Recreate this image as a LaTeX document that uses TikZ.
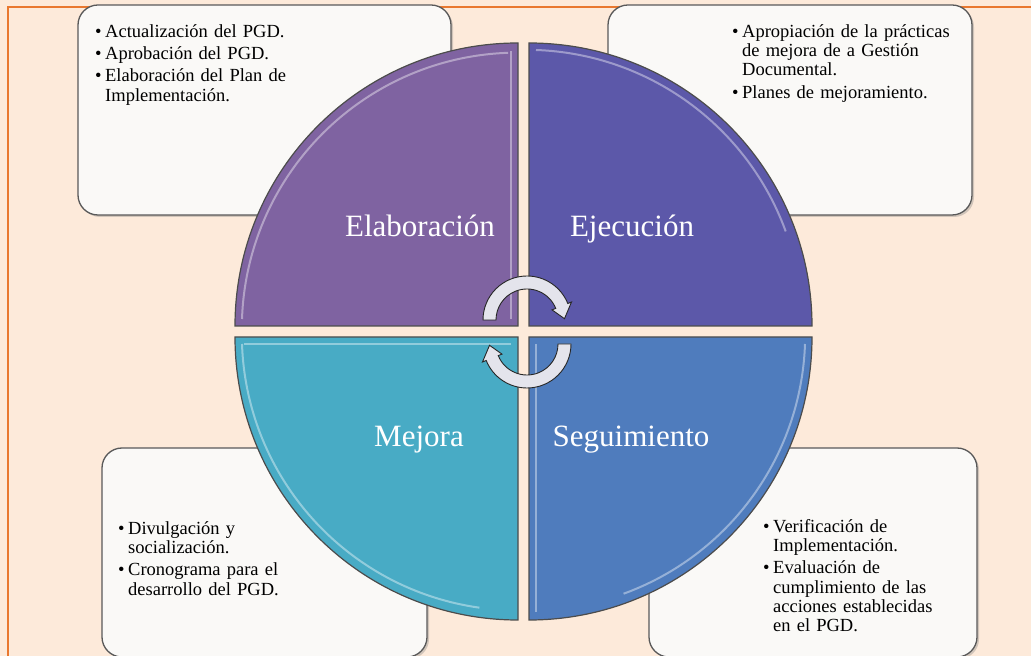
\documentclass[tikz,border=0pt]{standalone}
\usepackage{fontspec}
\setmainfont{Liberation Serif}
\usetikzlibrary{shadows}

\definecolor{peach}{HTML}{FDEADA}
\definecolor{frameorange}{HTML}{E9782F}
\definecolor{boxfill}{HTML}{FAF9F7}
\definecolor{boxline}{HTML}{595959}
\definecolor{elabcol}{HTML}{7F63A1}
\definecolor{ejeccol}{HTML}{5C58A9}
\definecolor{mejocol}{HTML}{48ABC5}
\definecolor{seguicol}{HTML}{4F7CBD}
\definecolor{cyclefill}{HTML}{E4E4EC}

% one bullet line of a box, hanging indent
\newcommand{\pgditem}[1]{\par\hangindent=10pt\hangafter=1\noindent\hbox to 10pt{\textbullet\hfil}#1\par}
\newcommand{\itemgap}{\vspace{3pt}}

\tikzset{
  infobox/.style={draw=boxline, line width=1.3pt, fill=boxfill, rounded corners=20pt,
    drop shadow={shadow xshift=2pt, shadow yshift=-2pt, opacity=0.35}},
  itemtext/.style={inner sep=0pt, anchor=base west,
    font=\fontsize{18.5}{19.3}\selectfont},
  sector/.style={draw=black!70, line width=1.2pt},
  shine/.style={line width=2pt, white, opacity=0.4},
  seclabel/.style={text=white, anchor=base, inner sep=0pt, font=\fontsize{31}{36}\selectfont},
  cyclearrow/.style={draw=black!85, line width=0.9pt, fill=cyclefill},
}

\begin{document}
\begin{tikzpicture}[x=1pt,y=1pt]

\useasboundingbox (0,0) rectangle (1031,656);
\fill [peach] (0,0) rectangle (1031,656);

%% frame (cut off at right and bottom)
\draw [frameorange, line width=1.5pt] (8,-2) -- (8,649) -- (1033,649);

%% text boxes behind the circle
\node [infobox, minimum width=373pt, minimum height=210pt] (boxTL) at (264.5,546) {};
\node [infobox, minimum width=364pt, minimum height=210pt] (boxTR) at (790,546) {};
\node [infobox, minimum width=325pt, minimum height=209pt] (boxBL) at (264.5,103.5) {};
\node [infobox, minimum width=328pt, minimum height=209pt] (boxBR) at (813,103.5) {};

\node [itemtext, text width=340pt] (txtTL) at (95,638) {\raggedright
  \pgditem{Actualización del PGD.}\itemgap
  \pgditem{Aprobación del PGD.}\itemgap
  \pgditem{Elaboración del Plan de\newline Implementación.}};
\node [itemtext, text width=235pt] (txtTR) at (732,638) {\raggedright
  \pgditem{Apropiación de la prácticas\newline de mejora de a Gestión\newline Documental.}\itemgap
  \pgditem{Planes de mejoramiento.}};
\node [itemtext, text width=200pt] (txtBL) at (118,141) {\raggedright
  \pgditem{Divulgación y\newline socialización.}\itemgap
  \pgditem{Cronograma para el\newline desarrollo del PGD.}};
\node [itemtext, text width=200pt] (txtBR) at (763,143) {\raggedright
  \pgditem{Verificación de\newline Implementación.}\itemgap
  \pgditem{Evaluación de\newline cumplimiento de las\newline acciones establecidas\newline en el PGD.}};

%% the four quarters
\draw [sector, fill=elabcol] (518,330) -- ++(-283,0) arc [start angle=180, end angle=90, radius=283pt] -- cycle;
\draw [sector, fill=ejeccol] (529,330) -- ++(0,283) arc [start angle=90, end angle=0, radius=283pt] -- cycle;
\draw [sector, fill=mejocol] (518,319) -- ++(-283,0) arc [start angle=180, end angle=270, radius=283pt] -- cycle;
\draw [sector, fill=seguicol] (529,319) -- ++(283,0) arc [start angle=0, end angle=-90, radius=283pt] -- cycle;

%% light bevel lines
\draw [shine] (518,330) ++(-276,7) arc [start angle=178, end angle=92, radius=276pt];
\draw [shine] (511,337) -- (511,605);
\draw [shine] (529,330) ++(7,276) arc [start angle=88, end angle=20, radius=276pt];
\draw [shine] (518,319) ++(-276,-7) arc [start angle=182, end angle=262, radius=276pt];
\draw [shine] (244,312) -- (511,312);
\draw [shine] (536,312) -- (536,44);
\draw [shine] (529,319) ++(276,-7) arc [start angle=-2, end angle=-70, radius=276pt];

\node [seclabel] (elab) at (420,419) {Elaboración};
\node [seclabel] (ejec) at (632,419) {Ejecución};
\node [seclabel] (mejo) at (419,209) {Mejora};
\node [seclabel] (segui) at (631,209) {Seguimiento};

%% cycle arrows in the middle
\begin{scope}[shift={(527,336)}]
  \draw [cyclearrow] (180:44pt) arc [start angle=180, end angle=22, radius=44pt]
    -- (22:48pt) -- (2:37.5pt) -- (22:27pt) -- (22:31pt)
    arc [start angle=22, end angle=180, radius=31pt] -- cycle;
\end{scope}
\begin{scope}[shift={(527,312)}]
  \draw [cyclearrow] (0:44pt) arc [start angle=0, end angle=-158, radius=44pt]
    -- (-158:48pt) -- (-178:37.5pt) -- (-158:27pt) -- (-158:31pt)
    arc [start angle=-158, end angle=0, radius=31pt] -- cycle;
\end{scope}

\end{tikzpicture}
\end{document}
